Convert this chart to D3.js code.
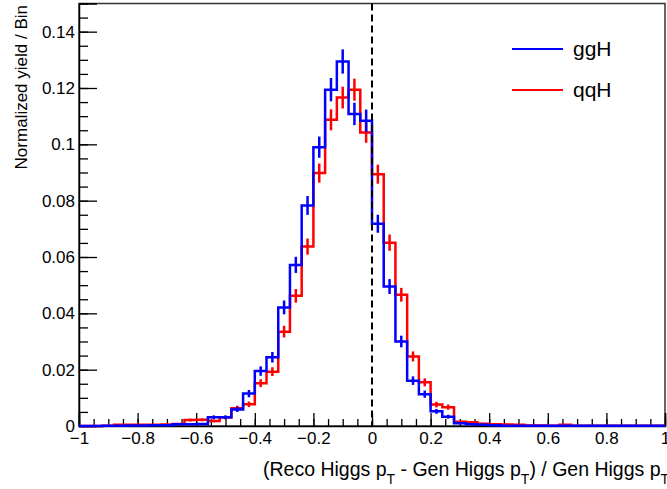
<!DOCTYPE html>
<html>
<head>
<meta charset="utf-8">
<script src="https://cdn.jsdelivr.net/npm/d3@7"></script>
<style>
  body { margin: 0; background: #fff; }
  svg { display: block; font-family: "Liberation Sans", Arial, Helvetica, sans-serif; }
</style>
</head>
<body>
<div id="chart"></div>
<script>
// binning: 50 bins from -1 to 1
var binLow = -1;
var binWidth = 0.04;

// ggH (blue) bin contents and errors
var ggH = [0, 0, 0.0001, 0.0001, 0.0002, 0.0002, 0.0003, 0.0003, 0.0006, 0.0006,
  0.0007, 0.0031, 0.0031, 0.0059, 0.0115, 0.0195, 0.0244, 0.0421, 0.0572, 0.0783,
  0.0990, 0.1194, 0.1294, 0.1108, 0.1084, 0.0718, 0.0495, 0.0300, 0.0161, 0.0113,
  0.0052, 0.0033, 0.0010, 0.0006, 0.0004, 0.0003, 0.0001, 0.0001, 0.0001, 0.0001,
  0.0001, 0.0001, 0.0001, 0.0001, 0.0001, 0.0001, 0.0001, 0.0001, 0.0001, 0.0001];
var ggHErr = [0, 0, 0.00012, 0.00012, 0.00017, 0.00017, 0.00021, 0.00021, 0.00029, 0.00029,
  0.00032, 0.00067, 0.00067, 0.00092, 0.00128, 0.00167, 0.00187, 0.00245, 0.00286, 0.00335,
  0.00376, 0.00413, 0.0043, 0.00398, 0.00394, 0.0032, 0.00266, 0.00207, 0.00152, 0.00127,
  0.00086, 0.00069, 0.00038, 0.00029, 0.00024, 0.00021, 0.00012, 0.00012, 0.00012, 0.00012,
  0.00012, 0.00012, 0.00012, 0.00012, 0.00012, 0.00012, 0.00012, 0.00012, 0.00012, 0.00012];

// qqH (red) bin contents and errors
var qqH = [0, 0, 0.0001, 0.0004, 0.0004, 0.0004, 0.0004, 0.0005, 0.0007, 0.0021,
  0.0022, 0.0018, 0.0030, 0.0063, 0.0077, 0.0152, 0.0193, 0.0335, 0.0462, 0.0637,
  0.0898, 0.1087, 0.1166, 0.1194, 0.1042, 0.0894, 0.0651, 0.0466, 0.0247, 0.0155,
  0.0076, 0.0067, 0.0015, 0.0013, 0.0008, 0.0006, 0.0005, 0.0004, 0.0002, 0.0002,
  0.0001, 0.0004, 0.0001, 0.0001, 0.0001, 0.0001, 0.0001, 0.0001, 0.0001, 0.0001];
var qqHErr = [0, 0, 0.00011, 0.00023, 0.00023, 0.00023, 0.00023, 0.00025, 0.0003, 0.00052,
  0.00053, 0.00048, 0.00062, 0.0009, 0.00099, 0.0014, 0.00157, 0.00207, 0.00243, 0.00286,
  0.00339, 0.00373, 0.00386, 0.00391, 0.00365, 0.00338, 0.00289, 0.00244, 0.00178, 0.00141,
  0.00099, 0.00093, 0.00044, 0.00041, 0.00032, 0.00028, 0.00025, 0.00023, 0.00016, 0.00016,
  0.00011, 0.00023, 0.00011, 0.00011, 0.00011, 0.00011, 0.00011, 0.00011, 0.00011, 0.00011];

var xMajor = [-1, -0.8, -0.6, -0.4, -0.2, 0, 0.2, 0.4, 0.6, 0.8, 1];
var yMajor = [0, 0.02, 0.04, 0.06, 0.08, 0.1, 0.12, 0.14];

var svgWidth = 667;
var svgHeight = 489;

var svg = d3.select("#chart")
  .append("svg")
  .attr("width", svgWidth)
  .attr("height", svgHeight);

var x = d3.scaleLinear().domain([-1, 1]).range([79, 665]);
var y = d3.scaleLinear().domain([0, 0.15]).range([426, 3.5]);

// frame
svg.append("rect")
  .attr("x", x(-1))
  .attr("y", y(0.15))
  .attr("width", x(1) - x(-1))
  .attr("height", y(0) - y(0.15))
  .attr("fill", "none")
  .attr("stroke", "#333")
  .attr("stroke-width", 1.5);

function fmt(d) {
  return d3.format("")(+d.toFixed(2)).replace("-", "\u2212");
}

// x axis: major and minor ticks pointing up
var xMinor = d3.range(-1, 1.0001, 0.05).map(d => +d.toFixed(2));
svg.append("g")
  .attr("transform", `translate(0, ${y(0)})`)
  .call(d3.axisBottom(x).tickValues(xMinor).tickSize(-7).tickFormat(""))
  .call(g => g.select(".domain").remove());
var xAxis = svg.append("g")
  .attr("transform", `translate(0, ${y(0)})`)
  .call(d3.axisBottom(x).tickValues(xMajor).tickSize(-13).tickPadding(6).tickFormat(fmt));
xAxis.select(".domain").attr("stroke-width", 1.5);

// y axis
var yMinor = d3.range(0, 0.1501, 0.005).map(d => +d.toFixed(3));
svg.append("g")
  .attr("transform", `translate(${x(-1)}, 0)`)
  .call(d3.axisLeft(y).tickValues(yMinor).tickSize(-9).tickFormat(""))
  .call(g => g.select(".domain").remove());
var yAxis = svg.append("g")
  .attr("transform", `translate(${x(-1)}, 0)`)
  .call(d3.axisLeft(y).tickValues(yMajor).tickSize(-18).tickPadding(4).tickFormat(fmt));
yAxis.select(".domain").attr("stroke-width", 1.5);

svg.selectAll(".tick line").attr("stroke", "#000").attr("stroke-width", 1.3);
svg.selectAll(".tick text")
  .attr("fill", "#000")
  .style("font-size", "17px")
  .style("font-family", "'Liberation Sans', Arial, sans-serif");

// histograms
function drawHist(vals, errs, color) {
  var pts = vals.map((v, i) => [binLow + i * binWidth, v]);
  pts.push([binLow + vals.length * binWidth, vals[vals.length - 1]]);
  var line = d3.line()
    .x(d => x(d[0]))
    .y(d => y(d[1]))
    .curve(d3.curveStepAfter);
  svg.append("path")
    .datum(pts)
    .attr("fill", "none")
    .attr("stroke", color)
    .attr("stroke-width", 2.5)
    .attr("d", line);

  svg.append("g")
    .selectAll("line")
    .data(vals)
    .enter()
    .append("line")
    .attr("x1", (d, i) => x(binLow + (i + 0.5) * binWidth))
    .attr("x2", (d, i) => x(binLow + (i + 0.5) * binWidth))
    .attr("y1", (d, i) => y(Math.max(0, d - errs[i])))
    .attr("y2", (d, i) => y(d + errs[i]))
    .attr("stroke", color)
    .attr("stroke-width", 2.5);
}

drawHist(qqH, qqHErr, "#ff0000");
drawHist(ggH, ggHErr, "#0000ff");

// dashed line at zero
svg.append("line")
  .attr("x1", x(0)).attr("x2", x(0))
  .attr("y1", y(0.15)).attr("y2", y(0))
  .attr("stroke", "#000")
  .attr("stroke-width", 2)
  .attr("stroke-dasharray", "7,4");

// legend
var legend = [["ggH", "#0000ff", 49], ["qqH", "#ff0000", 90]];
legend.forEach(function(l) {
  svg.append("line")
    .attr("x1", 512).attr("x2", 563)
    .attr("y1", l[2]).attr("y2", l[2])
    .attr("stroke", l[1])
    .attr("stroke-width", 2);
  svg.append("text")
    .attr("x", 573)
    .attr("y", l[2] + 7)
    .style("font-size", "21px")
    .text(l[0]);
});

// axis titles
var xt = svg.append("text")
  .attr("x", 263)
  .attr("y", 476)
  .style("font-size", "19.5px");
xt.append("tspan").text("(Reco Higgs p");
xt.append("tspan").attr("dy", 8).style("font-size", "14px").text("T");
xt.append("tspan").attr("dy", -8).text(" - Gen Higgs p");
xt.append("tspan").attr("dy", 8).style("font-size", "14px").text("T");
xt.append("tspan").attr("dy", -8).text(") / Gen Higgs p");
xt.append("tspan").attr("dy", 8).style("font-size", "14px").text("T");

svg.append("text")
  .attr("transform", "translate(27, 5) rotate(-90)")
  .attr("text-anchor", "end")
  .style("font-size", "17px")
  .text("Normalized yield / Bin");
</script>
</body>
</html>
